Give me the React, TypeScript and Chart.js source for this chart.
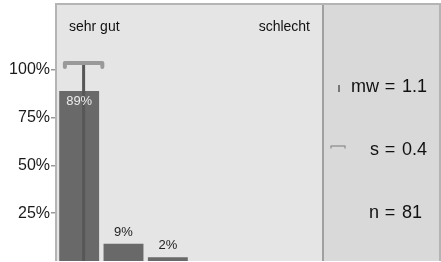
import React, { useEffect, useRef } from "react";
import { Chart, registerables } from "chart.js";

Chart.register(...registerables);

const categories = ["1", "2", "3", "4", "5", "6"];
const values = [89, 9, 2, 0, 0, 0];
const valueLabels = ["89%", "9%", "2%", "", "", ""];
const yTicks = [25, 50, 75, 100];
const meanValue = 1.1;
const sdValue = 0.4;
const nValue = 81;
const leftLabel = "sehr gut";
const rightLabel = "schlecht";
const statNames = ["mw", "s", "n"];
const statValues = [String(meanValue), String(sdValue), String(nValue)];

const FONT = "'Liberation Sans', Arial, sans-serif";

const overlay = {
  id: "overlay",
  beforeDraw(chart: any) {
    const { ctx, chartArea: a } = chart;
    ctx.save();
    ctx.fillStyle = "#e5e5e5";
    ctx.fillRect(a.left, a.top, a.right - a.left, a.bottom - a.top);
    ctx.fillStyle = "#d9d9d9";
    ctx.fillRect(a.right, a.top, chart.width - a.right - 1, a.bottom - a.top);
    ctx.restore();
  },
  afterDatasetsDraw(chart: any) {
    const { ctx, chartArea: a } = chart;
    const xs = chart.scales.x;
    const ys = chart.scales.y;
    ctx.save();
    // frame
    ctx.strokeStyle = "#b4b4b4";
    ctx.lineWidth = 2;
    ctx.beginPath();
    ctx.moveTo(a.left - 1, a.bottom);
    ctx.lineTo(a.left - 1, a.top - 1);
    ctx.lineTo(chart.width - 1, a.top - 1);
    ctx.lineTo(chart.width - 1, a.bottom);
    ctx.stroke();
    ctx.strokeStyle = "#a0a0a0";
    ctx.beginPath();
    ctx.moveTo(a.right, a.top);
    ctx.lineTo(a.right, a.bottom);
    ctx.stroke();

    // mean line
    const mx = xs.getPixelForValue(meanValue - 1);
    const topY = ys.getPixelForValue(100) - 7;
    ctx.strokeStyle = "#575757";
    ctx.lineWidth = 3;
    ctx.beginPath();
    ctx.moveTo(mx, a.bottom);
    ctx.lineTo(mx, topY);
    ctx.stroke();

    // sd bracket
    const x1 = xs.getPixelForValue(meanValue - sdValue - 1);
    const x2 = xs.getPixelForValue(meanValue + sdValue - 1);
    ctx.strokeStyle = "#999999";
    ctx.lineWidth = 4;
    ctx.lineJoin = "round";
    ctx.lineCap = "round";
    ctx.beginPath();
    ctx.moveTo(x1 - 1, topY + 4);
    ctx.lineTo(x1 - 1, topY);
    ctx.lineTo(x2 + 1, topY);
    ctx.lineTo(x2 + 1, topY + 4);
    ctx.stroke();
    ctx.lineCap = "butt";

    // value labels
    ctx.font = `13px ${FONT}`;
    ctx.textAlign = "center";
    ctx.textBaseline = "alphabetic";
    const meta = chart.getDatasetMeta(0);
    meta.data.forEach((bar: any, i: number) => {
      const t = valueLabels[i];
      if (!t) return;
      if (values[i] > 50) {
        ctx.fillStyle = "#ebebeb";
        ctx.fillText(t, bar.x, bar.y + 14);
      } else {
        ctx.fillStyle = "#222";
        ctx.fillText(t, bar.x, bar.y - 8);
      }
    });

    // header labels
    ctx.font = `14px ${FONT}`;
    ctx.fillStyle = "#111";
    ctx.textAlign = "left";
    ctx.fillText(leftLabel, a.left + 12, 31);
    ctx.textAlign = "right";
    ctx.fillText(rightLabel, a.right - 13, 31);

    // legend panel
    const px = a.right;
    const rows = [92, 155, 218];
    ctx.font = `18px ${FONT}`;
    ctx.fillStyle = "#111";
    statNames.forEach((name, i) => {
      ctx.textAlign = "right";
      ctx.fillText(name, px + 56, rows[i]);
      ctx.textAlign = "center";
      ctx.fillText("=", px + 67, rows[i]);
      ctx.textAlign = "left";
      ctx.fillText(statValues[i], px + 79, rows[i]);
    });
    ctx.strokeStyle = "#555";
    ctx.lineWidth = 1.5;
    ctx.beginPath();
    ctx.moveTo(px + 16, 85);
    ctx.lineTo(px + 16, 92);
    ctx.stroke();
    ctx.strokeStyle = "#999";
    ctx.lineWidth = 1.5;
    ctx.beginPath();
    ctx.moveTo(px + 8, 148.5);
    ctx.lineTo(px + 8, 146);
    ctx.lineTo(px + 22, 146);
    ctx.lineTo(px + 22, 148.5);
    ctx.stroke();
    ctx.restore();
  },
};

export default function App() {
  const ref = useRef<HTMLCanvasElement>(null);
  useEffect(() => {
    const chart = new Chart(ref.current!, {
      type: "bar",
      data: {
        labels: categories,
        datasets: [
          {
            data: values,
            backgroundColor: "#696969",
            categoryPercentage: 0.9,
            barPercentage: 1,
          },
        ],
      },
      options: {
        animation: false,
        responsive: false,
        layout: { padding: { left: 0, right: 118, top: 5, bottom: 1 } },
        plugins: { legend: { display: false }, tooltip: { enabled: false } },
        scales: {
          x: { display: false },
          y: {
            min: 0,
            max: 134,
            afterBuildTicks: (s: any) => {
              s.ticks = yTicks.map((v) => ({ value: v }));
            },
            afterFit: (s: any) => {
              s.width = 57;
              s.paddingTop = 0;
              s.paddingBottom = 0;
            },
            border: { display: false },
            grid: {
              drawOnChartArea: false,
              tickLength: 6,
              tickColor: "#9a9a9a",
              lineWidth: 1.5,
            },
            ticks: {
              padding: 1,
              color: "#1a1a1a",
              font: { family: FONT, size: 16 },
              callback: (v: any) => `${v}%`,
            },
          },
        },
      },
      plugins: [overlay],
    });
    return () => chart.destroy();
  }, []);
  return (
    <div style={{ position: "fixed", left: 0, top: 0, width: 441, height: 262, background: "#fff" }}>
      <canvas ref={ref} width={441} height={262} />
    </div>
  );
}
